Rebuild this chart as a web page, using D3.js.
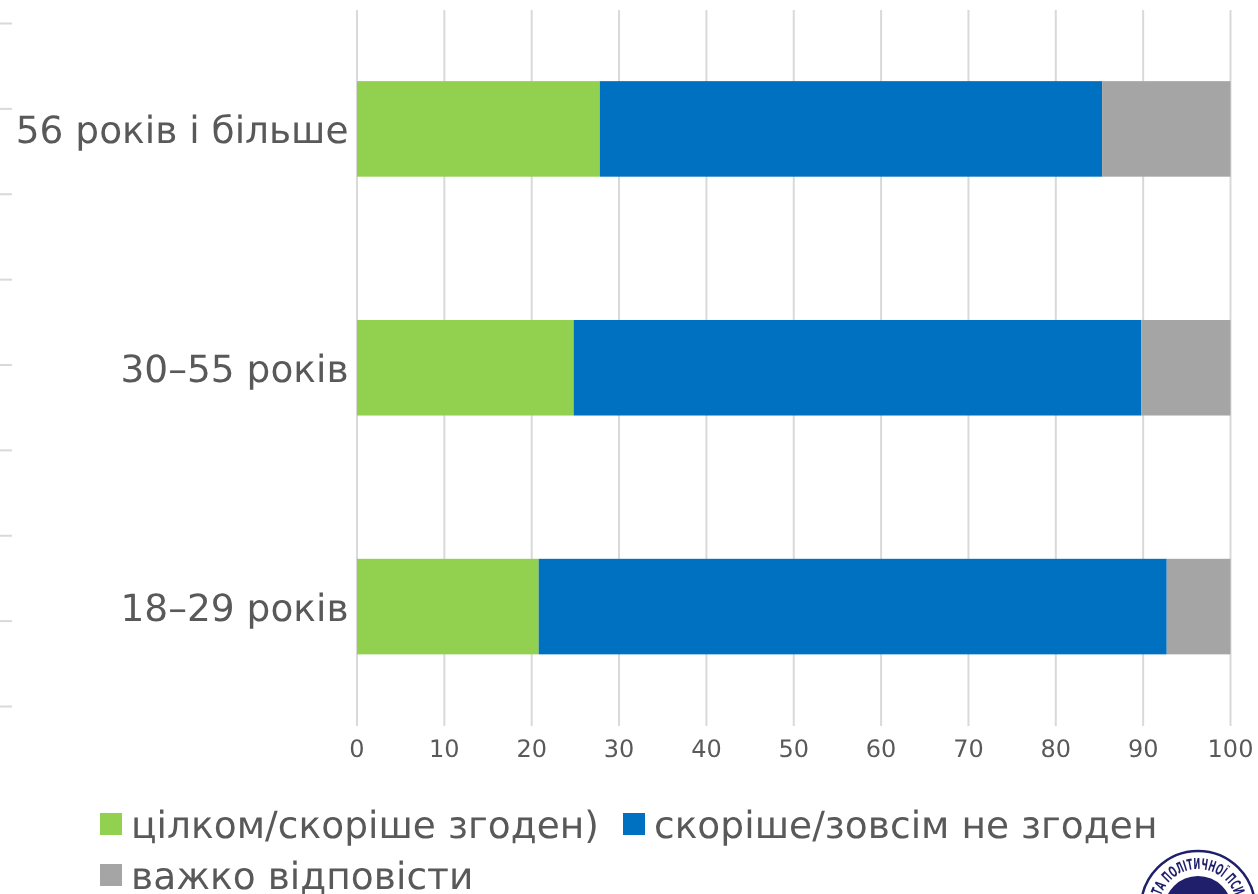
<!DOCTYPE html>
<html>
    <head>
        <meta charset="utf-8">
        <style>
            html, body { margin: 0; padding: 0; background: #fff; overflow: hidden; }
            svg { will-change: transform; }
            text { font-family: "DejaVu Sans", sans-serif; text-rendering: geometricPrecision; }
        </style>
    </head>
    <body>
        <svg id="chart"></svg>

        <script src="https://d3js.org/d3.v7.min.js"></script>
        <script>
            var categories = ["56 років і більше", "30–55 років", "18–29 років"];
            var seriesNames = ["цілком/скоріше згоден)", "скоріше/зовсім не згоден", "важко відповісти"];
            var agree = [27.8, 24.8, 20.8];
            var disagree = [57.5, 65.0, 71.9];
            var hardToSay = [14.7, 10.2, 7.3];
            var xTicks = [0, 10, 20, 30, 40, 50, 60, 70, 80, 90, 100];
            var leftTicks = [0, 1, 2, 3, 4, 5, 6, 7, 8];
            var colors = ["#92d050", "#0070c0", "#a5a5a5"];

            var width = 1258;
            var height = 894;
            var textColor = "#595959";
            var gridColor = "#d9d9d9";

            let svg = d3.select("#chart").attr("width", width).attr("height", height);

            var x = d3.scaleLinear().domain([0, 100]).range([357, 1230.5]);
            var y = d3.scaleBand().domain(categories).range([9.5, 726]).paddingInner(0.6).paddingOuter(0.3);

            // stray tick marks from the cropped neighbouring chart
            var strayScale = d3.scaleLinear().domain([0, 8]).range([23.5, 706.5]);
            svg.selectAll("line.stray")
                .data(leftTicks)
                .enter()
                .append("line")
                .attr("class", "stray")
                .attr("x1", 0)
                .attr("x2", 12)
                .attr("y1", d => strayScale(d))
                .attr("y2", d => strayScale(d))
                .attr("stroke", gridColor)
                .attr("stroke-width", 2);

            svg.selectAll("line.grid")
                .data(xTicks)
                .enter()
                .append("line")
                .attr("class", "grid")
                .attr("x1", d => x(d))
                .attr("x2", d => x(d))
                .attr("y1", 10)
                .attr("y2", 726)
                .attr("stroke", gridColor)
                .attr("stroke-width", 2);

            var rows = categories.map((c, i) => ({cat: c, s0: agree[i], s1: disagree[i], s2: hardToSay[i]}));
            var stack = d3.stack().keys(["s0", "s1", "s2"])(rows);

            svg.selectAll("g.series")
                .data(stack)
                .enter()
                .append("g")
                .attr("class", "series")
                .attr("fill", (d, i) => colors[i])
                .selectAll("rect")
                .data(d => d)
                .enter()
                .append("rect")
                .attr("x", d => x(d[0]))
                .attr("width", d => x(d[1]) - x(d[0]))
                .attr("y", d => y(d.data.cat))
                .attr("height", y.bandwidth());

            svg.selectAll("text.cat")
                .data(categories)
                .enter()
                .append("text")
                .attr("class", "cat")
                .attr("x", 348.5)
                .attr("y", d => y(d) + y.bandwidth() / 2 + 14)
                .attr("text-anchor", "end")
                .attr("font-size", 37.5)
                .attr("fill", textColor)
                .text(d => d);

            svg.selectAll("text.tick")
                .data(xTicks)
                .enter()
                .append("text")
                .attr("class", "tick")
                .attr("x", d => x(d))
                .attr("y", 757)
                .attr("text-anchor", "middle")
                .attr("font-size", 24)
                .attr("fill", textColor)
                .text(d => d);

            // legend wraps on two rows
            var legendPos = [[100, 837], [623, 837], [100, 888]];
            seriesNames.forEach(function(name, i){
                svg.append("rect")
                    .attr("x", legendPos[i][0])
                    .attr("y", legendPos[i][1] - 24)
                    .attr("width", 22)
                    .attr("height", 22)
                    .attr("fill", colors[i]);
                svg.append("text")
                    .attr("x", legendPos[i][0] + 31)
                    .attr("y", legendPos[i][1] + 1)
                    .attr("font-size", 37.5)
                    .attr("letter-spacing", 0.05)
                    .attr("fill", textColor)
                    .text(name);
            });

            // round stamp cut by the bottom edge
            var logoColor = "#1f1f6b";
            var logo = svg.append("g").attr("transform", "translate(1198,908)");
            logo.append("circle").attr("r", 57).attr("fill", "#fff").attr("stroke", logoColor).attr("stroke-width", 2.5);
            logo.append("circle").attr("cy", 2).attr("r", 34).attr("fill", logoColor);
            var logoArc = d3.path();
            logoArc.arc(0, 0, 39, -Math.PI / 2 - 2.4, -Math.PI / 2 + 2.4);
            logo.append("path").attr("id", "logoArc").attr("fill", "none").attr("d", logoArc.toString());
            logo.append("text")
                .attr("font-size", 15)
                .attr("font-weight", "bold")
                .attr("fill", logoColor)
                .style("font-family", '"Liberation Sans Narrow", "DejaVu Sans Condensed", sans-serif')
                .append("textPath")
                .attr("href", "#logoArc")
                .attr("startOffset", "50%")
                .attr("text-anchor", "middle")
                .attr("textLength", 98)
                .attr("lengthAdjust", "spacingAndGlyphs")
                .text("ТА ПОЛІТИЧНОЇ ПСИ");
        </script>
    </body>
</html>
